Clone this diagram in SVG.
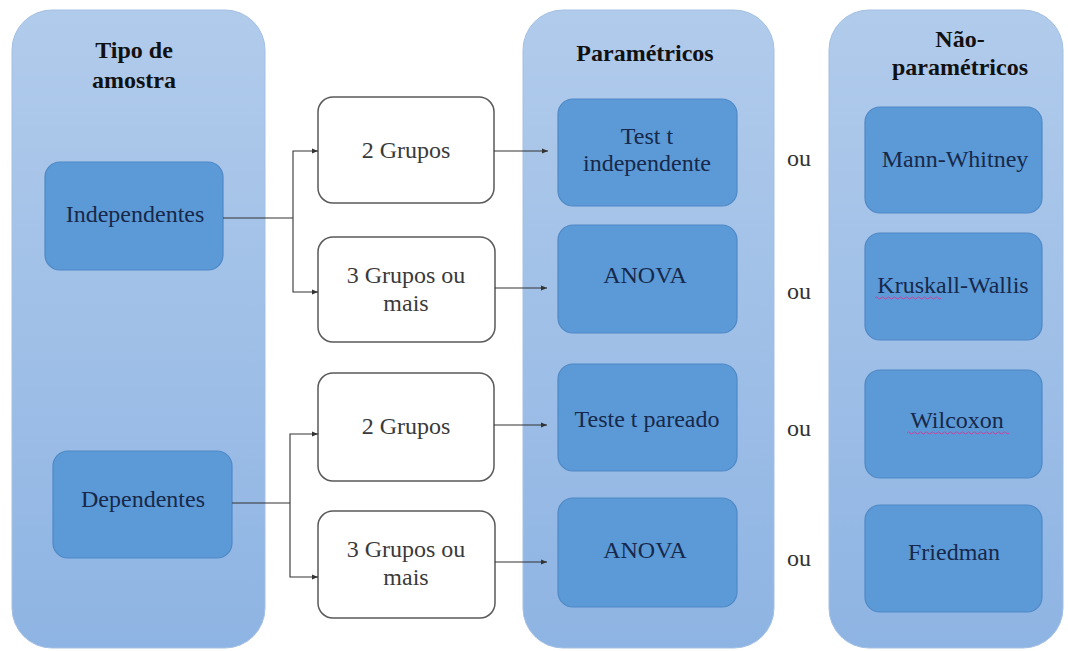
<svg xmlns="http://www.w3.org/2000/svg" width="1068" height="651" viewBox="0 0 1068 651">
  <defs>
    <linearGradient id="panelGrad" x1="0" y1="0" x2="0" y2="1">
      <stop offset="0" stop-color="#b1cbeb"/>
      <stop offset="1" stop-color="#8eb4e3"/>
    </linearGradient>
    <marker id="arrow" viewBox="0 0 10 10" refX="10" refY="5" markerWidth="6" markerHeight="6" markerUnits="userSpaceOnUse" orient="auto">
      <path d="M0,1 L10,5 L0,9 Z" fill="#333"/>
    </marker>
  </defs>
  <style>
    .panel { fill: url(#panelGrad); stroke: #a3bfe3; stroke-width: 1; }
    .blue { fill: #5b9ad6; stroke: #4f88c6; stroke-width: 1.2; }
    .white { fill: #ffffff; stroke: #5a5a5a; stroke-width: 1.5; }
    .title { font-family: "Liberation Serif", "Times New Roman", serif; font-weight: bold; font-size: 24px; fill: #111; text-anchor: middle; }
    .btext { font-family: "Liberation Serif", "Times New Roman", serif; font-size: 24px; fill: #17284a; text-anchor: middle; }
    .wtext { font-family: "Liberation Serif", "Times New Roman", serif; font-size: 24px; fill: #3a3a3a; text-anchor: middle; }
    .ou { font-family: "Liberation Serif", "Times New Roman", serif; font-size: 24px; fill: #333; text-anchor: middle; }
    .conn { fill: none; stroke: #333; stroke-width: 1.1; }
    .spell { fill: none; stroke: #d0409a; stroke-width: 1; }
  </style>
  <rect width="1068" height="651" fill="#ffffff"/>

  <g id="panel-tipo">
    <rect class="panel" x="12" y="10" width="253" height="638" rx="40"/>
    <text class="title" x="134" y="58">Tipo de</text>
    <text class="title" x="134" y="88">amostra</text>
  </g>
  <g id="panel-parametricos">
    <rect class="panel" x="523" y="10" width="251" height="638" rx="40"/>
    <text class="title" x="645" y="61">Paramétricos</text>
  </g>
  <g id="panel-naoparametricos">
    <rect class="panel" x="829" y="10" width="234" height="638" rx="40"/>
    <text class="title" x="960" y="47">Não-</text>
    <text class="title" x="960" y="75">paramétricos</text>
  </g>

  <g id="node-independentes">
    <rect class="blue" x="45" y="162" width="178" height="108" rx="15"/>
    <text class="btext" x="135" y="222">Independentes</text>
  </g>
  <g id="node-dependentes">
    <rect class="blue" x="53" y="451" width="179" height="107" rx="15"/>
    <text class="btext" x="143" y="507">Dependentes</text>
  </g>

  <g id="node-ind-2grupos">
    <rect class="white" x="318" y="97" width="176" height="106" rx="15"/>
    <text class="wtext" x="406" y="158">2 Grupos</text>
  </g>
  <g id="node-ind-3grupos">
    <rect class="white" x="318" y="237" width="177" height="105" rx="15"/>
    <text class="wtext" x="406" y="283">3 Grupos ou</text>
    <text class="wtext" x="406" y="311">mais</text>
  </g>
  <g id="node-dep-2grupos">
    <rect class="white" x="318" y="373" width="176" height="108" rx="15"/>
    <text class="wtext" x="406" y="434">2 Grupos</text>
  </g>
  <g id="node-dep-3grupos">
    <rect class="white" x="318" y="511" width="177" height="107" rx="15"/>
    <text class="wtext" x="406" y="557">3 Grupos ou</text>
    <text class="wtext" x="406" y="585">mais</text>
  </g>

  <g id="node-test-t-ind">
    <rect class="blue" x="558" y="99" width="179" height="107" rx="15"/>
    <text class="btext" x="647" y="144">Test t</text>
    <text class="btext" x="647" y="171">independente</text>
  </g>
  <g id="node-anova-1">
    <rect class="blue" x="558" y="225" width="179" height="108" rx="15"/>
    <text class="btext" x="645" y="283">ANOVA</text>
  </g>
  <g id="node-teste-t-pareado">
    <rect class="blue" x="558" y="364" width="179" height="107" rx="15"/>
    <text class="btext" x="647" y="427">Teste t pareado</text>
  </g>
  <g id="node-anova-2">
    <rect class="blue" x="558" y="498" width="179" height="109" rx="15"/>
    <text class="btext" x="645" y="558">ANOVA</text>
  </g>

  <g id="node-mann-whitney">
    <rect class="blue" x="865" y="107" width="177" height="106" rx="15"/>
    <text class="btext" x="955" y="167">Mann-Whitney</text>
  </g>
  <g id="node-kruskall-wallis">
    <rect class="blue" x="865" y="233" width="177" height="107" rx="15"/>
    <text class="btext" x="953" y="293">Kruskall-Wallis</text>
    <path class="spell" d="M875,298 q1.5,-2 3,0 t3,0 t3,0 t3,0 t3,0 t3,0 t3,0 t3,0 t3,0 t3,0 t3,0 t3,0 t3,0 t3,0 t3,0 t3,0 t3,0 t3,0 t3,0 t3,0 t3,0 t3,0"/>
  </g>
  <g id="node-wilcoxon">
    <rect class="blue" x="865" y="370" width="177" height="108" rx="15"/>
    <text class="btext" x="957" y="428">Wilcoxon</text>
    <path class="spell" d="M907,433 q1.5,-2 3,0 t3,0 t3,0 t3,0 t3,0 t3,0 t3,0 t3,0 t3,0 t3,0 t3,0 t3,0 t3,0 t3,0 t3,0 t3,0 t3,0 t3,0 t3,0 t3,0 t3,0 t3,0 t3,0 t3,0 t3,0 t3,0 t3,0 t3,0 t3,0 t3,0 t3,0 t3,0 t3,0 t3,0"/>
  </g>
  <g id="node-friedman">
    <rect class="blue" x="865" y="505" width="177" height="107" rx="15"/>
    <text class="btext" x="954" y="560">Friedman</text>
  </g>

  <g id="labels-ou">
    <text class="ou" x="799" y="166">ou</text>
    <text class="ou" x="799" y="299">ou</text>
    <text class="ou" x="799" y="436">ou</text>
    <text class="ou" x="799" y="566">ou</text>
  </g>

  <g id="connectors">
    <path class="conn" d="M223,218 H293"/>
    <path class="conn" d="M293,218 V151 H318" marker-end="url(#arrow)"/>
    <path class="conn" d="M293,218 V292 H318" marker-end="url(#arrow)"/>
    <path class="conn" d="M232,503 H290"/>
    <path class="conn" d="M290,503 V434 H318" marker-end="url(#arrow)"/>
    <path class="conn" d="M290,503 V577 H318" marker-end="url(#arrow)"/>
    <path class="conn" d="M494,151 H548" marker-end="url(#arrow)"/>
    <path class="conn" d="M495,288 H547" marker-end="url(#arrow)"/>
    <path class="conn" d="M494,425 H547" marker-end="url(#arrow)"/>
    <path class="conn" d="M495,562 H547" marker-end="url(#arrow)"/>
  </g>
</svg>
